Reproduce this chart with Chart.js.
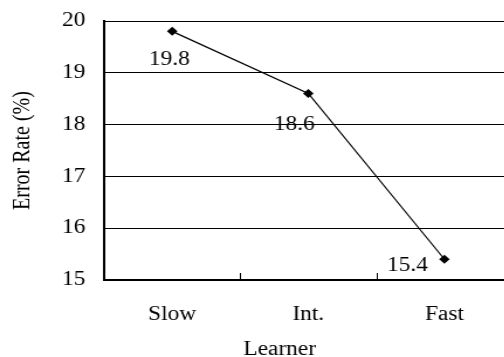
<!DOCTYPE html>
<html>
<head>
<meta charset="utf-8">
<script src="https://cdn.jsdelivr.net/npm/chart.js@4"></script>
<style>
  html, body { margin: 0; padding: 0; background: #fff; overflow: hidden; }
  /* the reference is stretched sideways, so stretch the drawing the same way */
  #wrap { width: 445px; height: 357px; transform: scaleX(1.17); transform-origin: 0 0; }
</style>
</head>
<body>
<div id="wrap"><canvas id="chart" width="445" height="357"></canvas></div>
<script>
var learners = ['Slow', 'Int.', 'Fast'];
var errorRates = [19.8, 18.6, 15.4];
var yTicks = [15, 16, 17, 18, 19, 20];

// where each value label sits relative to its point
var labelShift = [[-2.5, 28], [-12, 31], [-31.5, 6]];

var fontFamily = '"Liberation Serif", "Times New Roman", serif';
var fontSize = 20;

var extras = {
  id: 'extras',
  afterDatasetsDraw: function (chart) {
    var ctx = chart.ctx;
    var area = chart.chartArea;
    var xs = chart.scales.x;
    var meta = chart.getDatasetMeta(0);
    ctx.save();
    // category boundary ticks, pointing into the plot
    ctx.strokeStyle = '#000';
    ctx.lineWidth = 1;
    for (var i = 1; i < learners.length; i++) {
      var bx = Math.round((xs.getPixelForValue(i - 1) + xs.getPixelForValue(i)) / 2) + 0.5;
      ctx.beginPath();
      ctx.moveTo(bx, area.bottom);
      ctx.lineTo(bx, area.bottom - 7);
      ctx.stroke();
    }
    // value labels
    ctx.fillStyle = '#000';
    ctx.font = fontSize + 'px ' + fontFamily;
    ctx.textAlign = 'center';
    ctx.textBaseline = 'middle';
    meta.data.forEach(function (pt, n) {
      ctx.fillText(errorRates[n].toFixed(1), pt.x + labelShift[n][0], pt.y + labelShift[n][1]);
    });
    // x axis title
    ctx.fillText('Learner', area.left + 150, 350);
    ctx.restore();
  }
};

var config = {
  type: 'line',
  data: {
    labels: learners,
    datasets: [{
      data: errorRates,
      borderColor: '#000',
      backgroundColor: '#000',
      borderWidth: 1.2,
      pointStyle: 'rectRot',
      pointRadius: 4.5,
      pointBorderWidth: 0,
      tension: 0
    }]
  },
  options: {
    responsive: false,
    animation: false,
    layout: { padding: { top: 21, right: 7, bottom: 0, left: 0 } },
    plugins: {
      legend: { display: false },
      tooltip: { enabled: false }
    },
    scales: {
      x: {
        offset: true,
        grid: { display: false },
        border: { color: '#000', width: 2 },
        ticks: {
          color: '#000',
          padding: 15,
          font: { family: fontFamily, size: fontSize }
        },
        afterFit: function (scale) { scale.height = 77; }
      },
      y: {
        min: 15,
        max: 20,
        afterBuildTicks: function (scale) {
          scale.ticks = yTicks.map(function (v) { return { value: v }; });
        },
        grid: { color: '#000', lineWidth: 1, drawTicks: false },
        border: { color: '#000', width: 2 },
        ticks: {
          color: '#000',
          padding: 16,
          font: { family: fontFamily, size: fontSize }
        },
        title: {
          display: true,
          text: 'Error Rate (%)',
          color: '#000',
          font: { family: fontFamily, size: fontSize },
          padding: { top: 8, bottom: 0 }
        },
        afterFit: function (scale) {
          scale.width = 89;
          scale.paddingTop = 0;
          scale.paddingBottom = 0;
        }
      }
    }
  },
  plugins: [extras]
};

new Chart(document.getElementById('chart').getContext('2d'), config);
</script>
</body>
</html>
